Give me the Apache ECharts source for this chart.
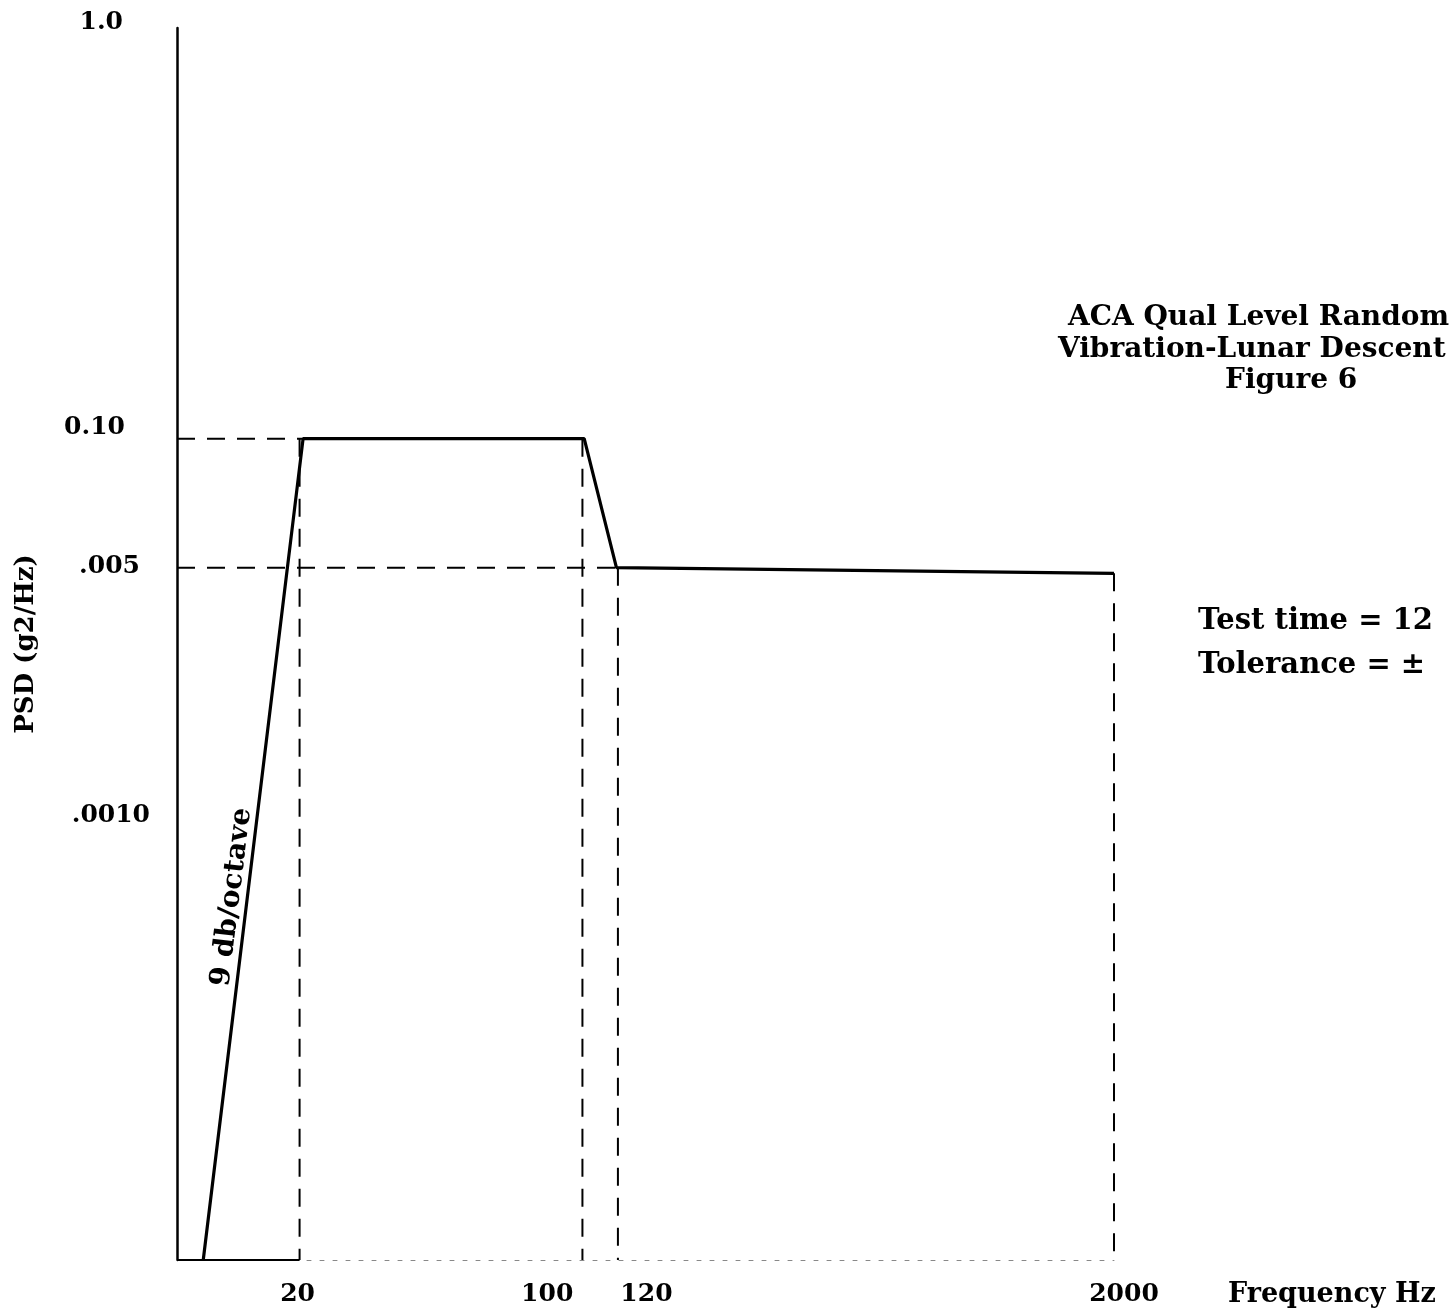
<!DOCTYPE html>
<html>
<head>
<meta charset="utf-8">
<script src="https://cdn.jsdelivr.net/npm/echarts@6/dist/echarts.min.js"></script>
<style>
html,body{margin:0;padding:0;background:#ffffff;}
#chart{width:1452px;height:1314px;}
</style>
</head>
<body>
<div id="chart"></div>
<script>
// ---------------- DATA ----------------
// Qualification PSD profile: frequency (Hz) and PSD (g^2/Hz)
const profileFreq = [11.6, 20.4, 100, 120, 2000];
const profilePsd  = [0.001, 0.1, 0.1, 0.0485, 0.047];

// Dashed horizontal guide lines (from the PSD axis to the break frequency)
const hGuideFreqEnd = [20.4, 120];
const hGuidePsd     = [0.1, 0.0485];

// Dashed vertical guide lines (from the profile down to the frequency axis)
const vGuideFreq   = [20, 99, 121, 2000];
const vGuideTopPsd = [0.1, 0.1, 0.0485, 0.047];

// Tick values and their printed labels
const xTickValues = [20, 100, 120, 2000];
const xTickLabels = ['20', '100', '120', '2000'];
const yTickValues = [1, 0.1, 0.05, 0.01];
const yTickLabels = ['1.0', '0.10', '.005', '.0010'];

// Annotation texts
const titleLines = ['ACA Qual Level Random', 'Vibration-Lunar Descent', 'Figure 6'];
const noteLines  = ['Test time = 12', 'Tolerance = \u00b1'];
const slopeNote  = '9 db/octave';
const xName = 'Frequency Hz';
const yName = 'PSD (g2/Hz)';

// Axis ranges
const xMin = 10, xMax = 2000;
const yMin = 0.001, yMax = 1;

// ---------------- STYLE / LAYOUT ----------------
const FONT = '"DejaVu Serif", "Liberation Serif", serif';
const FS = 25;
// label nudges in px: [dx, dy] (positive dx = right, positive dy = down)
const xLabelNudge = [[-2, 0], [-37, 0], [30, 0], [10, 0]];
const yLabelNudge = [[-27, -6], [-25, -11], [-10, 4], [0, -34]];
// title line anchors (left x, centre y)
const titlePos = [[1068, 318], [1058, 350], [1225, 381]];

// x labels: centred horizontally, top-aligned; y labels: right-aligned, middle
function richFor(nudges, isY) {
  const r = {};
  nudges.forEach((n, i) => {
    const dx = n[0], dy = n[1];
    const hx = isY ? 1 : 2;
    const vy = isY ? 2 : 1;
    r['t' + i] = {
      fontFamily: FONT, fontSize: FS, fontWeight: 'bold', color: '#000',
      padding: [dy > 0 ? vy * dy : 0, dx < 0 ? -hx * dx : 0, dy < 0 ? -vy * dy : 0, dx > 0 ? hx * dx : 0]
    };
  });
  return r;
}
function findIdx(list, v) {
  return list.findIndex(t => Math.abs(t - v) / t < 1e-6);
}

const chart = echarts.init(document.getElementById('chart'), null, {renderer: 'canvas'});

const dashed = {color: '#000', width: 2, type: [18, 12]};

const series = [];
series.push({
  type: 'line', name: 'profile', symbol: 'none', clip: false, z: 5,
  data: profileFreq.map((f, i) => [f, profilePsd[i]]),
  lineStyle: {color: '#000', width: 3.2}
});
hGuideFreqEnd.forEach((f, i) => {
  series.push({
    type: 'line', symbol: 'none', clip: false, z: 3,
    data: [[xMin, hGuidePsd[i]], [f, hGuidePsd[i]]],
    lineStyle: dashed
  });
});
vGuideFreq.forEach((f, i) => {
  series.push({
    type: 'line', symbol: 'none', clip: false, z: 3,
    data: [[f, vGuideTopPsd[i]], [f, yMin]],
    lineStyle: dashed
  });
});
series.push({
  type: 'line', symbol: 'none', clip: false, z: 4,
  data: [[xMin, yMin], [vGuideFreq[0], yMin]],
  lineStyle: {color: '#000', width: 2}
});

const graphics = titleLines.map((t, i) => ({
  type: 'text', x: titlePos[i][0], y: titlePos[i][1], z: 10,
  style: {text: t, font: 'bold 28px ' + FONT, align: 'left', verticalAlign: 'middle', fill: '#000'}
}));
graphics.push(
  {
    type: 'text', x: 1198, y: 621, z: 10,
    style: {text: noteLines[0], font: 'bold 29px ' + FONT, align: 'left', verticalAlign: 'middle', fill: '#000'}
  },
  {
    type: 'text', x: 1198, y: 665, z: 10,
    style: {text: noteLines[1], font: 'bold 29px ' + FONT, align: 'left', verticalAlign: 'middle', fill: '#000'}
  },
  {
    type: 'text', x: 232, y: 897, rotation: 83 * Math.PI / 180, z: 10,
    style: {text: slopeNote, font: 'bold 28px ' + FONT, align: 'center', verticalAlign: 'middle', fill: '#000'}
  }
);

const option = {
  backgroundColor: '#ffffff',
  animation: false,
  grid: {left: 177, top: 28, right: 338, bottom: 54, containLabel: false},
  xAxis: {
    type: 'log', logBase: 10, min: xMin, max: xMax,
    name: '{n|' + xName + '}', nameLocation: 'end', nameGap: 114, nameMoveOverlap: false,
    nameTextStyle: {
      fontFamily: FONT, fontSize: 27, fontWeight: 'bold', color: '#000',
      align: 'left', verticalAlign: 'middle',
      rich: {n: {fontFamily: FONT, fontSize: 27, fontWeight: 'bold', color: '#000', padding: [70, 0, 0, 0]}}
    },
    axisLine: {show: true, lineStyle: {color: '#888', width: 1, type: [4, 9]}},
    axisTick: {show: false},
    splitLine: {show: false},
    minorTick: {show: false},
    axisLabel: {
      show: true, customValues: xTickValues, margin: 22,
      fontFamily: FONT, fontSize: FS, fontWeight: 'bold', color: '#000',
      formatter: function (v) {
        const i = findIdx(xTickValues, v);
        return i < 0 ? '' : '{t' + i + '|' + xTickLabels[i] + '}';
      },
      rich: richFor(xLabelNudge, false)
    }
  },
  yAxis: {
    type: 'log', logBase: 10, min: yMin, max: yMax,
    name: yName, nameLocation: 'middle', nameGap: 138, nameRotate: 90, nameMoveOverlap: false,
    nameTextStyle: {fontFamily: FONT, fontSize: 26, fontWeight: 'bold', color: '#000'},
    axisLine: {show: true, lineStyle: {color: '#000', width: 2.5}},
    axisTick: {show: false},
    splitLine: {show: false},
    minorTick: {show: false},
    axisLabel: {
      show: true, customValues: yTickValues, margin: 27,
      fontFamily: FONT, fontSize: FS, fontWeight: 'bold', color: '#000',
      formatter: function (v) {
        const i = findIdx(yTickValues, v);
        return i < 0 ? '' : '{t' + i + '|' + yTickLabels[i] + '}';
      },
      rich: richFor(yLabelNudge, true)
    }
  },
  series: series,
  graphic: graphics
};

chart.setOption(option);
</script>
</body>
</html>
